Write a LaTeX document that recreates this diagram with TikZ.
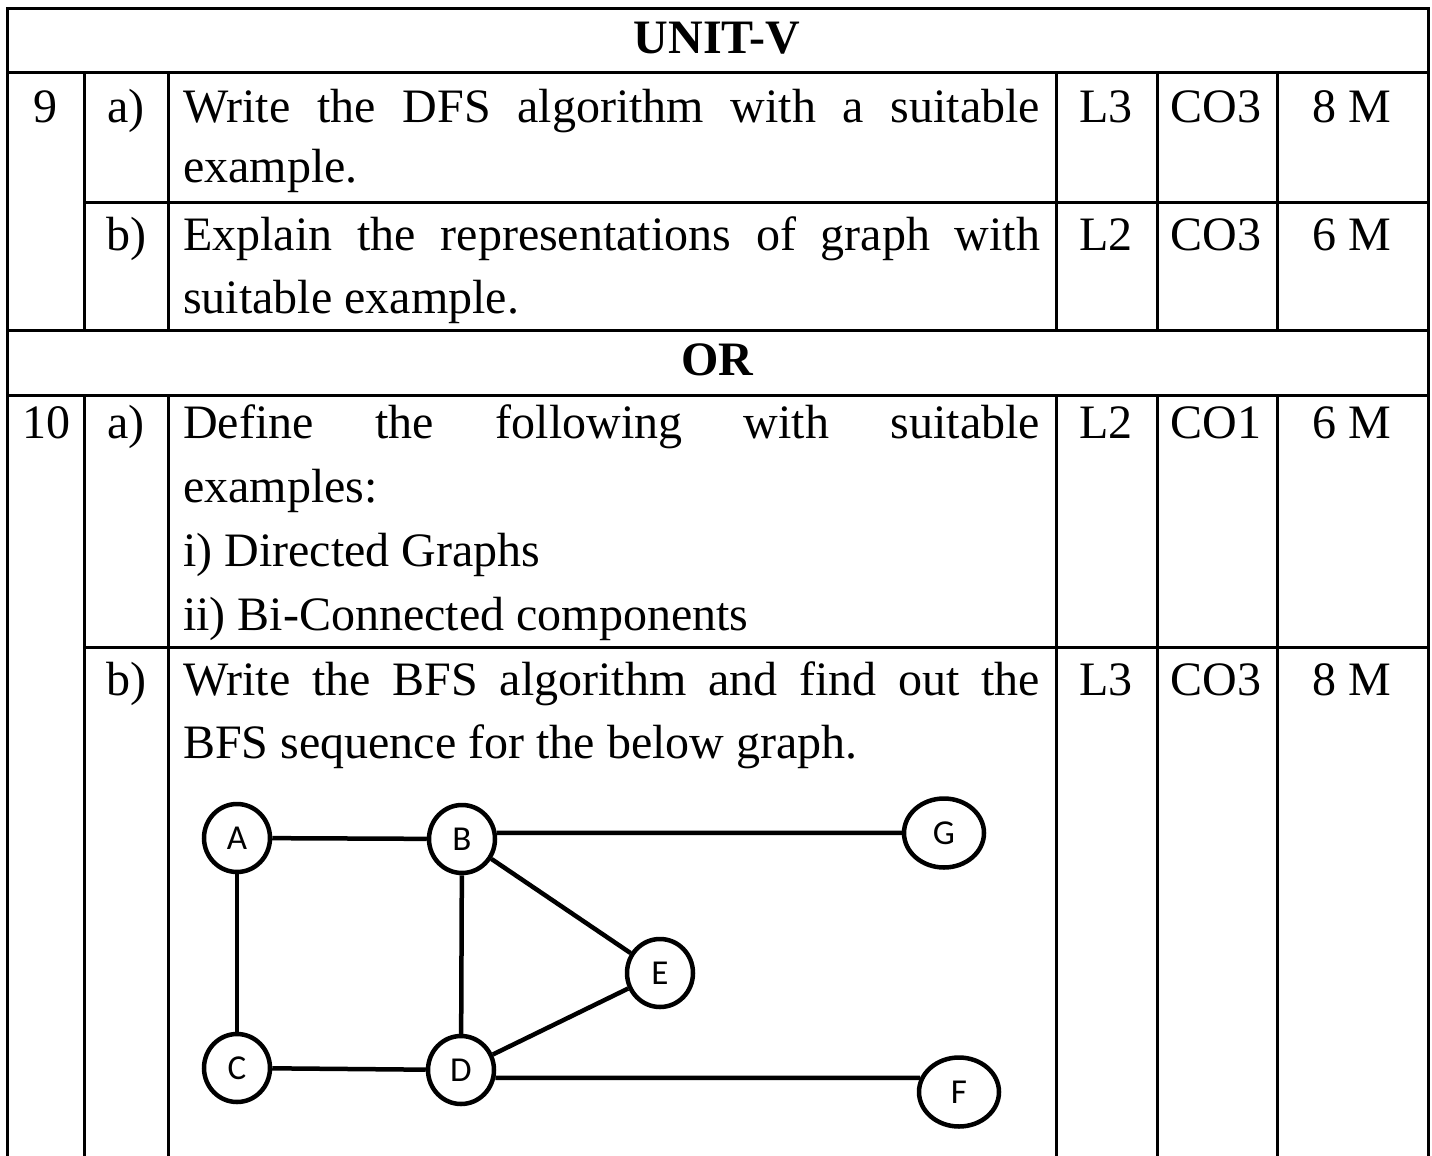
\documentclass[tikz,border=0pt]{standalone}
\usepackage{fontspec}
\setmainfont{Liberation Serif}
\newfontfamily\graphfont{Carlito}
\usetikzlibrary{shapes.geometric}
\begin{document}
\begin{tikzpicture}[x=1pt,y=-1pt,
  rule/.style={line width=3pt},
  txt/.style={anchor=base west, inner sep=0pt, font=\fontsize{48}{58}\selectfont},
  ctr/.style={anchor=base, inner sep=0pt, font=\fontsize{48}{58}\selectfont},
  hdr/.style={anchor=base, inner sep=0pt, font=\fontsize{48}{58}\selectfont\bfseries},
  vert/.style={ellipse, draw, line width=4.5pt, minimum width=66pt, minimum height=68pt, inner sep=0pt, font=\graphfont\fontsize{35}{35}\selectfont},
  wide/.style={vert, minimum width=80pt, minimum height=69pt},
  link/.style={line width=4.5pt}]
\useasboundingbox (0,0) rectangle (1432,1156);
\fill[white] (0,0) rectangle (1432,1156);
% table rules
\draw[rule] (7,1160) -- (7,9) -- (1428,9) -- (1428,1160);
\draw[rule] (7,73) -- (1428,73);
\draw[rule] (84,202) -- (1428,202);
\draw[rule] (7,330) -- (1428,330);
\draw[rule] (7,395) -- (1428,395);
\draw[rule] (84,647) -- (1428,647);
\foreach \x in {84,168,1056,1157,1277} {
  \draw[rule] (\x,73) -- (\x,330);
  \draw[rule] (\x,395) -- (\x,1160);
}
% headers
\node[hdr] (unit) at (717,54) {UNIT-V};
\node[hdr] (or) at (717,375) {OR};
% question 9
\node[ctr] (q9) at (45,122) {9};
\node[ctr] (q9a) at (126,122) {a)};
\node[txt] (t9a1) at (183,122) {\makebox[857pt][s]{Write the DFS algorithm with a suitable}};
\node[txt] (t9a2) at (183,182) {example.};
\node[ctr] (l9a) at (1106,122) {L3};
\node[ctr] (c9a) at (1216,122) {CO3};
\node[ctr] (m9a) at (1352,122) {8 M};
\node[ctr] (q9b) at (126,250) {b)};
\node[txt] (t9b1) at (183,250) {\makebox[857pt][s]{Explain the representations of graph with}};
\node[txt] (t9b2) at (183,313) {suitable example.};
\node[ctr] (l9b) at (1106,250) {L2};
\node[ctr] (c9b) at (1216,250) {CO3};
\node[ctr] (m9b) at (1352,250) {6 M};
% question 10
\node[ctr] (q10) at (46,438) {10};
\node[ctr] (q10a) at (126,438) {a)};
\node[txt] (t10a1) at (183,438) {\makebox[857pt][s]{Define the following with suitable}};
\node[txt] (t10a2) at (183,502) {examples:};
\node[txt] (t10a3) at (183,566) {i) Directed Graphs};
\node[txt] (t10a4) at (183,630) {ii) Bi-Connected components};
\node[ctr] (l10a) at (1106,438) {L2};
\node[ctr] (c10a) at (1216,438) {CO1};
\node[ctr] (m10a) at (1352,438) {6 M};
\node[ctr] (q10b) at (126,695) {b)};
\node[txt] (t10b1) at (183,695) {\makebox[857pt][s]{Write the BFS algorithm and find out the}};
\node[txt] (t10b2) at (183,758) {BFS sequence for the below graph.};
\node[ctr] (l10b) at (1106,695) {L3};
\node[ctr] (c10b) at (1216,695) {CO3};
\node[ctr] (m10b) at (1352,695) {8 M};
% graph
\node[vert] (A) at (237,838) {A};
\node[vert] (B) at (462,839) {B};
\node[vert] (C) at (237,1068) {C};
\node[vert] (D) at (461,1070) {D};
\node[vert] (E) at (660,973) {E};
\node[wide] (G) at (944,833) {G};
\node[wide] (F) at (959,1092) {F};
\draw[link] (A) -- (B);
\draw[link] (A) -- (C);
\draw[link] (B.10) -- (G);
\draw[link] (B) -- (D);
\draw[link] (B) -- (E);
\draw[link] (C) -- (D);
\draw[link] (D) -- (E);
\draw[link] (D.-13) -- (F.160);
\end{tikzpicture}
\end{document}
